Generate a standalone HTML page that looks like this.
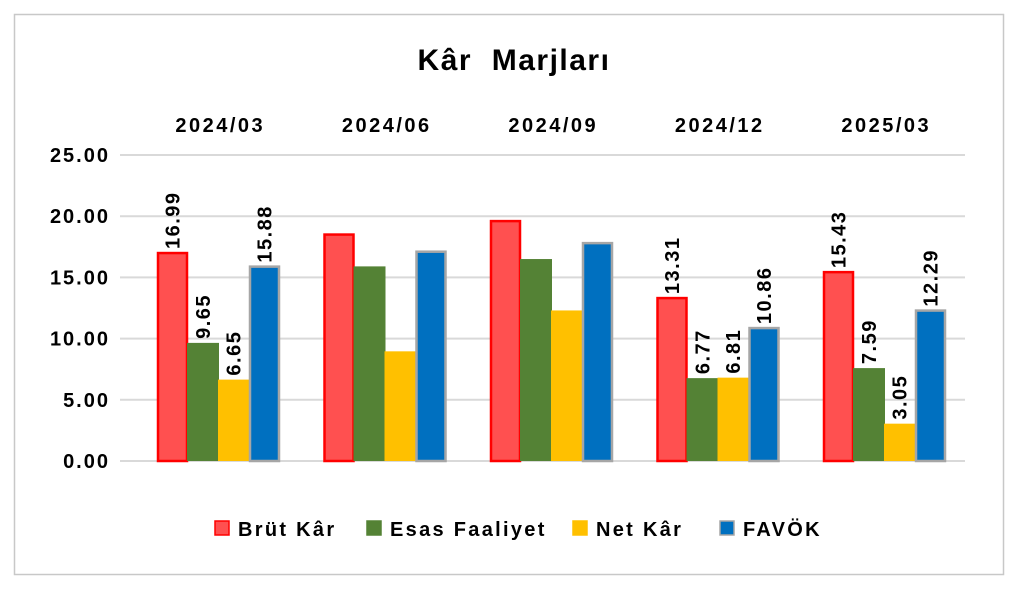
<!DOCTYPE html>
<html><head><meta charset="utf-8"><style>
body{margin:0;background:#fff;width:1019px;height:584px;overflow:hidden;font-family:"Liberation Sans",sans-serif}
</style></head><body>
<svg width="1019" height="584" xmlns="http://www.w3.org/2000/svg">
<rect x="14.5" y="14.5" width="989" height="560" fill="#fff" stroke="#c8c8c8" stroke-width="1.5"/>
<text x="514" y="70" text-anchor="middle" font-size="30" font-weight="bold" letter-spacing="1.5" fill="#000" style="white-space:pre">Kâr  Marjları</text>
<g id="grid"></g><g id="bars"></g><g id="labels"></g>
<g id="legend"></g>
</svg>
<script>
const categories=["2024/03","2024/06","2024/09","2024/12","2025/03"];
const brut=[16.99,18.5,19.6,13.31,15.43];
const esas=[9.65,15.9,16.5,6.77,7.59];
const net=[6.65,8.96,12.3,6.81,3.05];
const favok=[15.88,17.1,17.8,10.86,12.29];
const showLabel=[true,false,false,true,true];
const ticks=[0,5,10,15,20,25];
const seriesNames=["Brüt Kâr","Esas Faaliyet","Net Kâr","FAVÖK"];
const NS="http://www.w3.org/2000/svg";
const y0=461,yTop=155,vmax=25;
const y=v=>y0-(y0-yTop)*v/vmax;
const left=136,catW=166.5;
const x=i=>left+catW*i;
function mk(tag,attrs,parent){const e=document.createElementNS(NS,tag);for(const k in attrs)e.setAttribute(k,attrs[k]);parent.appendChild(e);return e;}
const grid=document.getElementById('grid'),bars=document.getElementById('bars'),labels=document.getElementById('labels'),legend=document.getElementById('legend');
ticks.forEach(t=>{
 const l=mk('line',{x1:120,x2:965,y1:y(t),y2:y(t),stroke:'#d9d9d9','stroke-width':2},grid);
 
 
 const tx=mk('text',{x:110,y:y(t)+7,'text-anchor':'end','font-size':20,'font-weight':'bold','letter-spacing':2},grid);
 tx.textContent=t.toFixed(2);
 
 
});
const series=[brut,esas,net,favok];
const fills=['#ff5050','#548235','#ffc000','#0070c0'];
const strokes=['#ff0000','none','none','#a6a6a6'];
const offs=[22,51,82,114];
const bw=[29,32,31,29];
categories.forEach((c,i)=>{
 const ct=mk('text',{x:x(i)+catW/2+1,y:132,'text-anchor':'middle','font-size':20,'font-weight':'bold','letter-spacing':2.5},labels);
 ct.textContent=c;
 
 
 series.forEach((s,k)=>{
  const v=s[i],bx=x(i)+offs[k];
  const r=mk('rect',{x:bx,y:y(v),width:bw[k],height:y0-y(v),fill:fills[k],stroke:strokes[k],'stroke-width':strokes[k]=='none'?0:2.5},bars);
  
  
  if(showLabel[i]){
   const cx=bx+bw[k]/2+7,ty=y(v)-4;
   const t=mk('text',{x:cx,y:ty,'font-size':20,'font-weight':'bold','letter-spacing':1.5,transform:`rotate(-90 ${cx} ${ty})`},labels);
   t.textContent=v.toFixed(2);
   
   
  }
 });
});
const lx=[215,367,573,720];
seriesNames.forEach((n,k)=>{
 const r=mk('rect',{x:lx[k],y:521,width:14,height:14,fill:fills[k],stroke:strokes[k]=='none'?fills[k]:strokes[k],'stroke-width':1.5},legend);
 
 
 const t=mk('text',{x:lx[k]+23,y:536,'font-size':20,'font-weight':'bold','letter-spacing':2.3},legend);
 t.textContent=n;
 
 
});
</script>
</body></html>
